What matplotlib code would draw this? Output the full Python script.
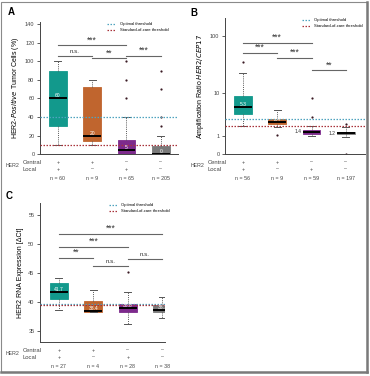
import numpy as np
import matplotlib
matplotlib.use("Agg")
import matplotlib.pyplot as plt
from matplotlib.lines import Line2D
from matplotlib.patches import Rectangle

plt.rcParams['font.family'] = ['Liberation Sans', 'DejaVu Sans']

# group colours (teal, orange, purple, gray)
box_colors = ['#12998c', '#c0652e', '#7d2a8c', '#7a7a7a']
opt_color = '#4fa3bf'
soc_color = '#a8323a'

central = ['+', '+', '\u2013', '\u2013']
local = ['+', '\u2013', '+', '\u2013']

# Panel A: HER2-positive tumor cells (%)
a_n = ['n = 60', 'n = 9', 'n = 65', 'n = 205']
a_q1 = [30, 14, 0, 0]
a_med = [60, 20, 4, 0]
a_q3 = [90, 72, 15, 9]
a_lo = [10, 10, 0, 0]
a_hi = [100, 80, 40, 20]
a_fliers = [[], [], [60, 80, 100], [30, 40, 70, 90]]
a_labels = ['60', '20', '5', '0']
a_opt, a_soc = 40, 10
a_sig = [(1, 3, 117, '***'), (1, 2, 106, 'n.s.'), (2, 3, 103, '**'), (3, 4, 106, '***')]

# Panel B: amplification ratio HER2/CEP17
b_n = ['n = 56', 'n = 9', 'n = 59', 'n = 197']
b_q1 = [3.75, 2.3, 1.22, 1.16]
b_med = [5.3, 2.45, 1.4, 1.25]
b_q3 = [8.6, 3.0, 1.53, 1.37]
b_lo = [1.96, 1.85, 1.02, 0.97]
b_hi = [23, 4.5, 2.0, 1.9]
b_fliers = [[35], [1.08], [3.2, 7.8], [2.3, 0]]
b_labels = ['5.3', '2.4', '1.4', '1.2']
b_opt, b_soc = 3.0, 2.0
b_sig = [(1, 3, 76, '***'), (1, 2, 51, '***'), (2, 3, 41.5, '***'), (3, 4, 25.5, '**')]

# Panel C: HER2 RNA expression
c_n = ['n = 27', 'n = 4', 'n = 28', 'n = 38']
c_q1 = [40.5, 38.3, 38.2, 38.3]
c_med = [41.8, 38.5, 38.9, 38.7]
c_q3 = [43.2, 40.2, 39.7, 39.4]
c_lo = [38.6, 38.2, 36.3, 37.3]
c_hi = [44.1, 42.0, 41.8, 40.8]
c_fliers = [[], [], [45.1], []]
c_labels = ['41.7', '38.4', '38.8', '38.7']
c_opt, c_soc = 39.6, 39.5
c_sig = [(1, 4, 51.7, '***'), (1, 3, 49.5, '***'), (1, 2, 47.6, '**'),
         (2, 3, 46.1, 'n.s.'), (3, 4, 47.4, 'n.s.')]


def draw_panel(ax, q1, med, q3, lo, hi, fliers, labels, opt, soc, sig, n_labels,
               leg_anchor, label_side=None):
    stats = []
    for i in range(4):
        stats.append(dict(q1=q1[i], med=med[i], q3=q3[i], whislo=lo[i],
                          whishi=hi[i], fliers=fliers[i]))
    bp = ax.bxp(stats, positions=[1, 2, 3, 4], widths=0.52, patch_artist=True,
                showfliers=True,
                medianprops=dict(color='black', lw=1.4),
                whiskerprops=dict(color='#555555', lw=0.7, ls=(0, (1, 1.2))),
                capprops=dict(color='#555555', lw=0.7),
                flierprops=dict(marker='o', markersize=1.6, markerfacecolor='#3a1a24',
                                markeredgecolor='none'))
    for patch, col in zip(bp['boxes'], box_colors):
        patch.set_facecolor(col)
        patch.set_edgecolor(col)
        patch.set_linewidth(0.6)
    for cap in bp['caps']:
        c = cap.get_xdata().mean()
        cap.set_xdata([c - 0.1, c + 0.1])

    ax.axhline(opt, color=opt_color, lw=0.9, ls=(0, (1.2, 1.2)), zorder=3)
    ax.axhline(soc, color=soc_color, lw=0.9, ls=(0, (1.2, 1.2)), zorder=3)

    for i in range(4):
        if label_side and label_side[i]:
            ax.text(i + 1 - 0.3, med[i], labels[i], ha='right', va='center',
                    fontsize=3.6, color='#333333')
        else:
            ax.text(i + 1, med[i], labels[i], ha='center', va='bottom',
                    fontsize=3.6, color='white')

    for x1, x2, y, txt in sig:
        ax.plot([x1, x2], [y, y], color='#666666', lw=0.8, clip_on=False)
        stars = txt.startswith('*')
        ax.annotate(txt, xy=((x1 + x2) / 2, y), xytext=(0, 0.5 if stars else 1.5),
                    textcoords='offset points', ha='center', va='bottom',
                    fontsize=6.2 if stars else 4.5, color='#333333')

    handles = [Line2D([], [], color=opt_color, ls=(0, (1.2, 1.2)), lw=0.9),
               Line2D([], [], color=soc_color, ls=(0, (1.2, 1.2)), lw=0.9)]
    ax.legend(handles, ['Optimal threshold', 'Standard-of-care threshold'],
              loc='upper right', bbox_to_anchor=leg_anchor, frameon=False,
              fontsize=3.0, handlelength=2.0, handletextpad=1.0,
              labelspacing=0.55, borderaxespad=0, borderpad=0)

    for s in ['top', 'right']:
        ax.spines[s].set_visible(False)
    for s in ['left', 'bottom']:
        ax.spines[s].set_color('#444444')
        ax.spines[s].set_linewidth(0.7)
    ax.set_xticks([1, 2, 3, 4])
    ax.set_xticklabels([])
    ax.tick_params(axis='x', length=0)
    ax.tick_params(axis='y', labelsize=4, colors='#444444', length=2, width=0.6, pad=2)

    for i in range(4):
        for sym, dy in ((central[i], 8), (local[i], 15)):
            ax.annotate(sym, xy=(i + 1, 0), xycoords=('data', 'axes fraction'),
                        xytext=(0, -dy), textcoords='offset pixels',
                        ha='center', va='center', fontsize=3.8, color='#444444')
        ax.annotate(n_labels[i], xy=(i + 1, 0), xycoords=('data', 'axes fraction'),
                    xytext=(0, -24), textcoords='offset pixels',
                    ha='center', va='center', fontsize=3.8, color='#444444')
    ax.annotate('Central', xy=(0, 0), xycoords='axes fraction', xytext=(-17, -8),
                textcoords='offset pixels', ha='left', va='center', fontsize=4.2,
                color='#444444')
    ax.annotate('Local', xy=(0, 0), xycoords='axes fraction', xytext=(-17, -15),
                textcoords='offset pixels', ha='left', va='center', fontsize=4.2,
                color='#444444')
    ax.annotate('HER2', xy=(0, 0), xycoords='axes fraction', xytext=(-34, -11.5),
                textcoords='offset pixels', ha='left', va='center', fontsize=3.8,
                color='#444444')


fig = plt.figure(figsize=(3.70, 3.76), dpi=100)

axA = fig.add_axes([0.108, 0.590, 0.373, 0.351])
draw_panel(axA, a_q1, a_med, a_q3, a_lo, a_hi, a_fliers, a_labels, a_opt, a_soc,
           a_sig, a_n, leg_anchor=(0.93, 1.0))
axA.set_xlim(0.48, 4.5)
axA.set_ylim(0, 142)
axA.set_yticks(range(0, 141, 20))
axA.set_ylabel('HER2-$\\it{Positive}$ Tumor Cells (%)', fontsize=5, labelpad=3)

axB = fig.add_axes([0.608, 0.590, 0.378, 0.362])
axB.set_yscale('function', functions=(lambda x: np.log10(np.clip(x, -0.99, None) + 1),
                                      lambda y: 10 ** y - 1))
draw_panel(axB, b_q1, b_med, b_q3, b_lo, b_hi, b_fliers, b_labels, b_opt, b_soc,
           b_sig, b_n, leg_anchor=(0.985, 1.0), label_side=[False, False, True, True])
axB.set_xlim(0.48, 4.55)
axB.set_ylim(0, 200)
axB.set_yticks([0, 1, 10, 100])
axB.set_yticklabels(['0', '1', '10', '100'])
axB.yaxis.set_minor_locator(matplotlib.ticker.NullLocator())
axB.set_ylabel('Amplification Ratio $\\it{HER2/CEP17}$', fontsize=5, labelpad=3)

axC = fig.add_axes([0.108, 0.090, 0.338, 0.370])
draw_panel(axC, c_q1, c_med, c_q3, c_lo, c_hi, c_fliers, c_labels, c_opt, c_soc,
           c_sig, c_n, leg_anchor=(1.04, 1.0))
axC.set_xlim(0.45, 4.08)
axC.set_ylim(33.1, 57)
axC.set_yticks([35, 40, 45, 50, 55])
axC.set_ylabel('HER2 RNA Expression [\u0394Ct]', fontsize=5, labelpad=3)

fig.text(8 / 370, 1 - 12 / 376, 'A', fontsize=7, fontweight='bold', va='center')
fig.text(190 / 370, 1 - 13 / 376, 'B', fontsize=7, fontweight='bold', va='center')
fig.text(6 / 370, 1 - 196 / 376, 'C', fontsize=7, fontweight='bold', va='center')

# outer frame
fig.add_artist(Rectangle((0.004, 0.01), 0.988, 0.986, transform=fig.transFigure,
                         fill=False, edgecolor='#8a8a8a', lw=0.8))
fig.add_artist(Line2D([0.992, 0.992], [0.01, 0.996], transform=fig.transFigure,
                      color='#7a7a7a', lw=1.8))
fig.add_artist(Line2D([0.004, 0.992], [0.01, 0.01], transform=fig.transFigure,
                      color='#7a7a7a', lw=1.8))

fig.savefig('out.png', dpi=100)
